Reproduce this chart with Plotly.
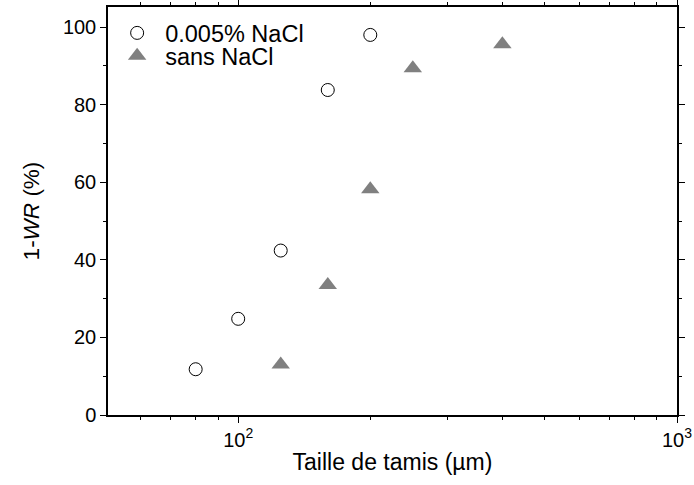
import plotly.graph_objects as go
import math

# Data
nacl_x = [80, 100, 125, 160, 200]
nacl_y = [11.8, 24.8, 42.4, 83.8, 98.0]
sans_x = [125, 160, 200, 250, 400]
sans_y = [13.0, 33.5, 58.2, 89.4, 95.6]

x_major = [100, 1000]
x_major_text = ["10<sup>2</sup>", "10<sup>3</sup>"]
x_minor = [60, 70, 80, 90, 200, 300, 400, 500, 600, 700, 800, 900]
y_major = [0, 20, 40, 60, 80, 100]
y_minor = [10, 30, 50, 70, 90]

fig = go.Figure()
fig.add_trace(go.Scatter(
    x=nacl_x, y=nacl_y, mode="markers", name="0.005% NaCl", legend="legend",
    marker=dict(symbol="circle-open", size=13, color="black", line=dict(width=1))
))
fig.add_trace(go.Scatter(
    x=sans_x, y=sans_y, mode="markers", name="sans NaCl", legend="legend2",
    marker=dict(symbol="triangle-up", size=16, color="#808080")
))

font = "Liberation Sans, Arial, sans-serif"
leg_common = dict(xanchor="left", yanchor="middle", bgcolor="rgba(0,0,0,0)",
                  font=dict(size=23.5), itemwidth=46)
fig.update_layout(
    width=694, height=485,
    margin=dict(l=108, r=17, t=7, b=70, autoexpand=False),
    plot_bgcolor="white", paper_bgcolor="white",
    font=dict(family=font, size=20, color="black"),
    showlegend=True,
    legend=dict(x=0.002, y=0.936, **leg_common),
    legend2=dict(x=0.002, y=0.88, **leg_common),
    xaxis=dict(
        type="log", range=[math.log10(50.5), 3],
        tickmode="array", tickvals=x_major, ticktext=x_major_text,
        ticks="outside", ticklen=6, tickwidth=1.2, tickcolor="black",
        showline=True, linecolor="black", linewidth=1.5, mirror="ticks",
        showgrid=False, zeroline=False, automargin=False,
        minor=dict(tickmode="array", tickvals=x_minor, ticks="outside",
                   ticklen=3.5, tickwidth=1.2, tickcolor="black", showgrid=False),
        title=dict(text="Taille de tamis (µm)", font=dict(size=23), standoff=4),
        tickfont=dict(size=20),
    ),
    yaxis=dict(
        range=[0, 105.2],
        tickmode="array", tickvals=y_major,
        ticks="outside", ticklen=6, tickwidth=1.2, tickcolor="black",
        showline=True, linecolor="black", linewidth=1.5, mirror="ticks",
        showgrid=False, zeroline=False, automargin=False,
        minor=dict(tickmode="array", tickvals=y_minor, ticks="outside",
                   ticklen=3.5, tickwidth=1.2, tickcolor="black", showgrid=False),
        title=dict(text="1-<i>WR</i> (%)", font=dict(size=22.5), standoff=17),
        tickfont=dict(size=20),
    ),
)

fig.write_html(
    "out.html",
    config={"displayModeBar": False},
    post_script="document.body.style.margin='0';document.body.style.overflow='hidden';",
)
